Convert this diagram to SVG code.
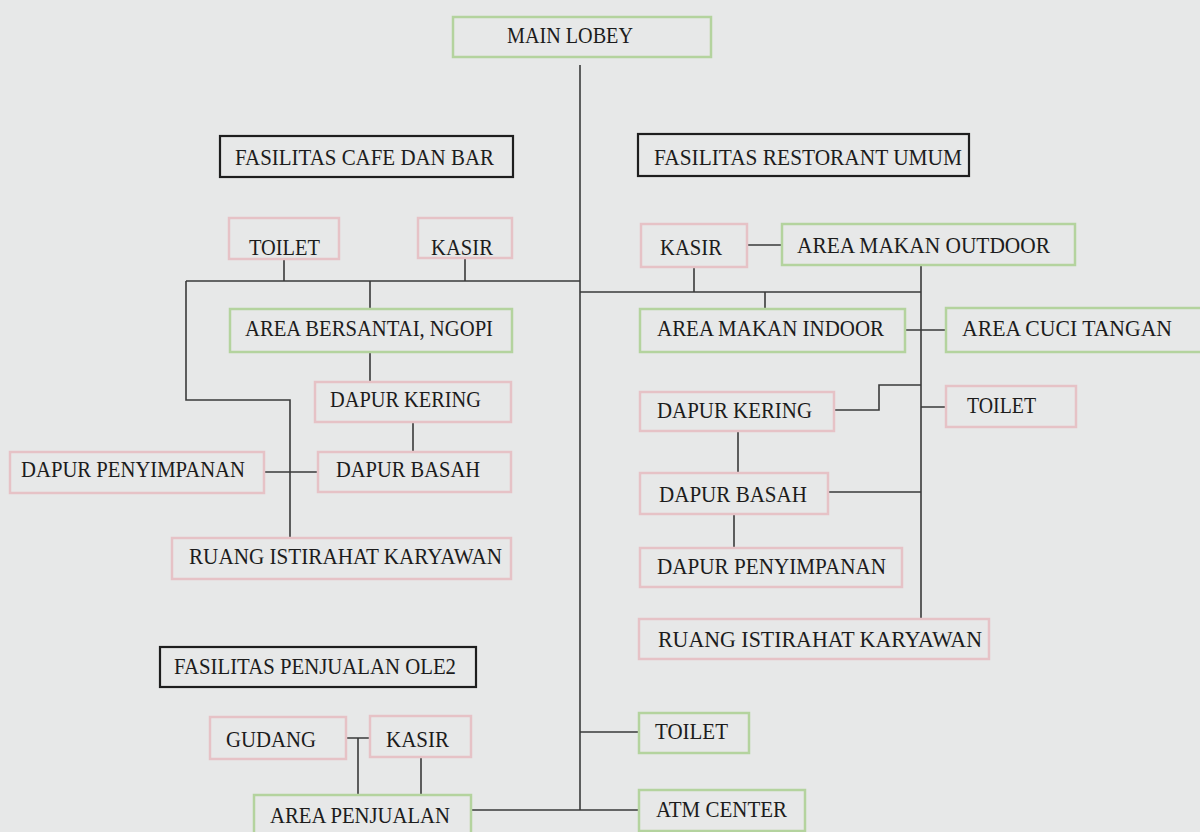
<svg xmlns="http://www.w3.org/2000/svg" width="1200" height="832" viewBox="0 0 1200 832">
<defs>
<style>
.bg{fill:#e7e8e8}
.pk{fill:none;stroke:#e6c2c6;stroke-width:2.5}
.gr{fill:none;stroke:#b4d39e;stroke-width:2.5}
.tt{fill:none;stroke:#1e1e1e;stroke-width:2.2}
.t{font-family:"Liberation Serif","Times New Roman",serif;font-size:23px;fill:#1c1c1c}
.c{fill:none;stroke:#3a3a3a;stroke-width:1.6}
</style>
</defs>
<rect class="bg" x="0" y="0" width="1200" height="832"/>

<g id="connectors">
<path class="c" d="M580 65V810"/>
<path class="c" d="M284 259V281M465 258V281M186 281H580M370 281V309"/>
<path class="c" d="M186 281V400H290V538"/>
<path class="c" d="M370 352V382M413 422V452M264 472H318"/>
<path class="c" d="M747 245H782M694 267V292M580 292H921M765 292V309M921 265V619"/>
<path class="c" d="M905 330H946M834 410H879V385H921M921 407H946"/>
<path class="c" d="M738 431V473M828 492H921M734 514V548"/>
<path class="c" d="M580 732H639M471 810H639"/>
<path class="c" d="M346 738H370M358 738V795M421 757V795"/>
</g>

<g id="main-lobey"><rect class="gr" x="453" y="17" width="258" height="40"/><text class="t" x="507" y="43" textLength="126" lengthAdjust="spacingAndGlyphs">MAIN LOBEY</text></g>

<g id="title-cafe"><rect class="tt" x="220" y="136" width="293" height="41"/><text class="t" x="235" y="165" textLength="259" lengthAdjust="spacingAndGlyphs">FASILITAS CAFE DAN BAR</text></g>
<g id="title-resto"><rect class="tt" x="638" y="134" width="331" height="42"/><text class="t" x="654" y="165" textLength="308" lengthAdjust="spacingAndGlyphs">FASILITAS RESTORANT UMUM</text></g>
<g id="title-ole2"><rect class="tt" x="160" y="647" width="316" height="40"/><text class="t" x="174" y="674" textLength="282" lengthAdjust="spacingAndGlyphs">FASILITAS PENJUALAN OLE2</text></g>

<g id="cafe-toilet"><rect class="pk" x="229" y="218" width="110" height="41"/><text class="t" x="249" y="255" textLength="71" lengthAdjust="spacingAndGlyphs">TOILET</text></g>
<g id="cafe-kasir"><rect class="pk" x="418" y="218" width="94" height="40"/><text class="t" x="431" y="255" textLength="62" lengthAdjust="spacingAndGlyphs">KASIR</text></g>
<g id="cafe-bersantai"><rect class="gr" x="230" y="309" width="282" height="43"/><text class="t" x="245" y="336" textLength="248" lengthAdjust="spacingAndGlyphs">AREA BERSANTAI, NGOPI</text></g>
<g id="cafe-dapur-kering"><rect class="pk" x="315" y="382" width="196" height="40"/><text class="t" x="330" y="407" textLength="151" lengthAdjust="spacingAndGlyphs">DAPUR KERING</text></g>
<g id="cafe-dapur-basah"><rect class="pk" x="318" y="452" width="193" height="40"/><text class="t" x="336" y="477" textLength="144" lengthAdjust="spacingAndGlyphs">DAPUR BASAH</text></g>
<g id="cafe-dapur-penyimpanan"><rect class="pk" x="10" y="452" width="254" height="41"/><text class="t" x="21" y="477" textLength="224" lengthAdjust="spacingAndGlyphs">DAPUR PENYIMPANAN</text></g>
<g id="cafe-ruang"><rect class="pk" x="172" y="538" width="339" height="41"/><text class="t" x="189" y="564" textLength="313" lengthAdjust="spacingAndGlyphs">RUANG ISTIRAHAT KARYAWAN</text></g>

<g id="resto-kasir"><rect class="pk" x="641" y="224" width="106" height="43"/><text class="t" x="660" y="255" textLength="62" lengthAdjust="spacingAndGlyphs">KASIR</text></g>
<g id="resto-outdoor"><rect class="gr" x="782" y="224" width="293" height="41"/><text class="t" x="797" y="253" textLength="253" lengthAdjust="spacingAndGlyphs">AREA MAKAN OUTDOOR</text></g>
<g id="resto-indoor"><rect class="gr" x="640" y="309" width="265" height="43"/><text class="t" x="657" y="336" textLength="227" lengthAdjust="spacingAndGlyphs">AREA MAKAN INDOOR</text></g>
<g id="resto-cuci"><rect class="gr" x="946" y="308" width="258" height="44"/><text class="t" x="962" y="336" textLength="210" lengthAdjust="spacingAndGlyphs">AREA CUCI TANGAN</text></g>
<g id="resto-dapur-kering"><rect class="pk" x="640" y="392" width="194" height="39"/><text class="t" x="657" y="418" textLength="155" lengthAdjust="spacingAndGlyphs">DAPUR KERING</text></g>
<g id="resto-toilet"><rect class="pk" x="946" y="386" width="130" height="41"/><text class="t" x="967" y="413" textLength="69" lengthAdjust="spacingAndGlyphs">TOILET</text></g>
<g id="resto-dapur-basah"><rect class="pk" x="640" y="473" width="188" height="41"/><text class="t" x="659" y="502" textLength="148" lengthAdjust="spacingAndGlyphs">DAPUR BASAH</text></g>
<g id="resto-dapur-penyimpanan"><rect class="pk" x="640" y="548" width="262" height="39"/><text class="t" x="657" y="574" textLength="229" lengthAdjust="spacingAndGlyphs">DAPUR PENYIMPANAN</text></g>
<g id="resto-ruang"><rect class="pk" x="639" y="619" width="350" height="40"/><text class="t" x="658" y="647" textLength="324" lengthAdjust="spacingAndGlyphs">RUANG ISTIRAHAT KARYAWAN</text></g>

<g id="toilet"><rect class="gr" x="639" y="713" width="110" height="40"/><text class="t" x="655" y="739" textLength="73" lengthAdjust="spacingAndGlyphs">TOILET</text></g>
<g id="atm-center"><rect class="gr" x="639" y="790" width="166" height="41"/><text class="t" x="656" y="817" textLength="131" lengthAdjust="spacingAndGlyphs">ATM CENTER</text></g>

<g id="ole2-gudang"><rect class="pk" x="210" y="717" width="136" height="42"/><text class="t" x="226" y="747" textLength="90" lengthAdjust="spacingAndGlyphs">GUDANG</text></g>
<g id="ole2-kasir"><rect class="pk" x="370" y="716" width="101" height="41"/><text class="t" x="386" y="747" textLength="63" lengthAdjust="spacingAndGlyphs">KASIR</text></g>
<g id="ole2-area-penjualan"><rect class="gr" x="254" y="795" width="217" height="40"/><text class="t" x="270" y="823" textLength="180" lengthAdjust="spacingAndGlyphs">AREA PENJUALAN</text></g>
</svg>
